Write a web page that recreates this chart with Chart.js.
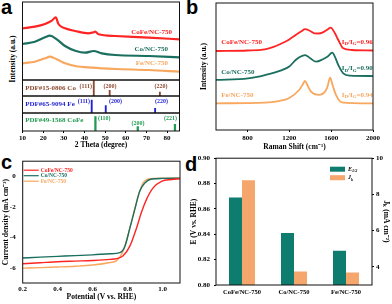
<!DOCTYPE html>
<html>
<head>
<meta charset="utf-8">
<script src="https://cdn.jsdelivr.net/npm/chart.js@4.4.0/dist/chart.umd.min.js"></script>
<style>
  body { margin: 0; background: #fff; width: 392px; height: 304px; position: relative; overflow: hidden; }
  .box { position: absolute; }
  .tag { position: absolute; font: bold 20px 'Liberation Sans', Arial, sans-serif; line-height: 20px; color: #000; }
  .vtitle { position: absolute; font: bold 7.5px 'Liberation Serif', serif; white-space: nowrap; transform: translate(-50%, -50%) rotate(-90deg); color: #000; }
</style>
</head>
<body>
<div class="tag" style="left:1px;top:-3px">a</div>
<div class="tag" style="left:186px;top:-3px">b</div>
<div class="tag" style="left:1px;top:152px">c</div>
<div class="tag" style="left:185px;top:154px">d</div>
<div class="vtitle" style="left:11.5px;top:59px">Intensity (a.u.)</div>

<div class="box" style="left:0;top:0;width:186px;height:82px"><canvas id="xrdTop"></canvas></div>
<div class="box" style="left:0;top:79px;width:186px;height:18px"><canvas id="pdfCo"></canvas></div>
<div class="box" style="left:0;top:95px;width:186px;height:19px"><canvas id="pdfFe"></canvas></div>
<div class="box" style="left:0;top:112px;width:186px;height:38px"><canvas id="pdfCoFe"></canvas></div>
<div class="box" style="left:196px;top:0;width:196px;height:152px"><canvas id="raman"></canvas></div>
<div class="box" style="left:0;top:150px;width:196px;height:154px"><canvas id="lsv"></canvas></div>
<div class="box" style="left:186px;top:150px;width:206px;height:154px"><canvas id="bars"></canvas></div>

<script>
// ---- data ----
// (a) XRD, 2 theta (deg) vs intensity (a.u.)
const xrdTicks = [10, 20, 30, 40, 50, 60, 70, 80];
const xrdCoFe = [[10, 51.5], [16, 53.3], [20.9, 56], [24.2, 59.3], [26.1, 62.7], [27.4, 56], [30.6, 51.7], [35.5, 49], [41.9, 46.7], [44, 47.5], [45.2, 48.3], [46.8, 45.7], [54.9, 44], [71.1, 42.3], [86, 40.7]];
const xrdCo = [[10, 36], [16, 38.3], [20.9, 42.7], [23.3, 44.3], [26.6, 40.7], [30.6, 34], [35.5, 29.3], [40.3, 27.3], [44.4, 29], [48.4, 26.7], [54.9, 25], [71.1, 24], [86, 22.7]];
const xrdFe = [[10, 16.7], [16, 18.3], [20.9, 21.7], [23.3, 23.3], [26.6, 20.7], [30.6, 16.7], [35.5, 14], [43.6, 12.3], [54.9, 11], [71.1, 10], [86, 8.3]];
const pdfCoPos = [44.5, 52.2, 76.5], pdfCoInt = [100, 35, 25];
const pdfFePos = [43.5, 50.3, 74.2], pdfFeInt = [76, 43, 28];
const pdfCoFePos = [45.3, 65.8, 83.8], pdfCoFeInt = [80, 24, 37];

// (b) Raman, shift (cm-1) vs intensity (a.u.)
const ramanTicks = [800, 1200, 1600, 2000];
const ramanCoFe = [[500, 62.2], [800, 62.6], [968, 63.5], [1050, 65.4], [1131, 68.3], [1200, 71.3], [1261, 74.8], [1320, 78], [1350, 79.5], [1400, 78], [1440, 76.1], [1480, 76], [1521, 76.9], [1565, 79.1], [1595, 80.6], [1635, 76.4], [1668, 70.9], [1716, 64.3], [1800, 63], [2000, 62.6]];
const ramanCo = [[500, 39.4], [806, 40.7], [968, 43.3], [1131, 47.2], [1200, 50], [1261, 55.1], [1300, 57.5], [1352, 59], [1400, 56.5], [1456, 53.8], [1521, 55.7], [1570, 58], [1610, 60.9], [1640, 57], [1668, 51.2], [1716, 44.6], [1781, 42.8], [2000, 42.5]];
const ramanFe = [[500, 21], [968, 21.5], [1100, 22.8], [1196, 25], [1294, 31.5], [1330, 36], [1350, 38.6], [1375, 35], [1408, 30.2], [1489, 27.6], [1540, 30], [1565, 34], [1590, 41.2], [1615, 35], [1646, 27.6], [1700, 21.8], [2000, 21]];
const ramanRatios = ['0.96', '0.90', '0.94'];

// (c) LSV, potential (V vs RHE) vs current density (mA cm-2)
const lsvTicksX = [0.2, 0.4, 0.6, 0.8, 1.0];
const lsvTicksY = [-6, -4, -2, 0];
const lsvCoFe = [[0.2, -5.74], [0.3, -5.67], [0.4, -5.6], [0.5, -5.56], [0.6, -5.52], [0.7, -5.45], [0.737, -5.4], [0.775, -5.21], [0.813, -4.58], [0.851, -3.4], [0.88, -2.34], [0.909, -1.49], [0.946, -0.75], [0.994, -0.32], [1.05, -0.2], [1.1, -0.15]];
const lsvCo = [[0.2, -5.36], [0.3, -5.3], [0.4, -5.25], [0.5, -5.2], [0.6, -5.15], [0.7, -5.08], [0.756, -5.0], [0.785, -4.58], [0.813, -3.4], [0.842, -2.13], [0.87, -0.96], [0.899, -0.43], [0.937, -0.17], [1.0, -0.13], [1.1, -0.11]];
const lsvFe = [[0.2, -6.02], [0.3, -5.99], [0.4, -5.95], [0.5, -5.9], [0.6, -5.82], [0.7, -5.65], [0.737, -5.53], [0.775, -4.9], [0.803, -3.83], [0.832, -2.55], [0.861, -1.28], [0.889, -0.43], [0.927, -0.15], [1.0, -0.12], [1.1, -0.11]];

// (d) half-wave potential and kinetic current
const samples = ['CoFe/NC-750', 'Co/NC-750', 'Fe/NC-750'];
const eHalf = [0.869, 0.841, 0.827];
const jKin = [8.78, 3.75, 3.69];
const eTicks = [0.80, 0.82, 0.84, 0.86, 0.88, 0.90];
const jTicks = [4, 6, 8, 10];

// ---- helpers ----
const FONT = "'Liberation Serif', 'Times New Roman', serif";
const RED = '#ff2424', TEAL = '#1a6f5f', ORANGE = '#f8a75e';
const tickFont = { family: FONT, size: 7, weight: 'bold' };
const titleFont = { family: FONT, size: 7.5, weight: 'bold' };
const noTicks = { display: false, drawTicks: false };

function fixSize(px) { return function(scale) { if (scale.isHorizontal()) scale.height = px; else scale.width = px; }; }
function useTicks(values) { return function(scale) { scale.ticks = values.map(v => ({ value: v })); }; }
function pts(arr) { return arr.map(p => ({ x: p[0], y: p[1] })); }
function lineSet(label, arr, color, width) {
    return { label: label, data: pts(arr), borderColor: color, backgroundColor: color, borderWidth: width, pointRadius: 0, cubicInterpolationMode: 'monotone', fill: false };
}

function drawRich(ctx, parts, x, y, o) {
    const size = o.size || 7;
    const fontFor = p => `${(p.italic || o.italic) ? 'italic ' : ''}bold ${p.sub ? size * 0.7 : size}px ${FONT}`;
    let w = 0;
    parts.forEach(p => { ctx.font = fontFor(p); w += ctx.measureText(p.t).width; });
    let cx = o.align === 'right' ? x - w : (o.align === 'center' ? x - w / 2 : x);
    ctx.save();
    ctx.fillStyle = o.color || '#000'; ctx.textBaseline = 'middle'; ctx.textAlign = 'left';
    parts.forEach(p => { ctx.font = fontFor(p); ctx.fillText(p.t, cx, y + (p.sub ? size * 0.3 : 0)); cx += ctx.measureText(p.t).width; });
    ctx.restore();
}

const framePlugin = {
    id: 'frame',
    afterDraw(chart) {
        const a = chart.chartArea, ctx = chart.ctx;
        ctx.save(); ctx.strokeStyle = '#111'; ctx.lineWidth = 1;
        ctx.strokeRect(a.left, a.top, a.right - a.left, a.bottom - a.top);
        ctx.restore();
    }
};
// text placed in data coordinates
function notesPlugin(items) {
    return {
        id: 'notes',
        afterDatasetsDraw(chart) {
            const sx = chart.scales.x, sy = chart.scales.y;
            items.forEach(n => drawRich(chart.ctx, n.parts || [{ t: n.text }], sx.getPixelForValue(n.x), sy.getPixelForValue(n.y), n));
        }
    };
}
// small hand-placed key inside the plot area
function keyPlugin(cfg) {
    return {
        id: 'key',
        afterDatasetsDraw(chart) {
            const ctx = chart.ctx, a = chart.chartArea;
            chart.data.datasets.forEach((ds, i) => {
                const x = a.left + cfg.x, y = a.top + cfg.y + i * cfg.dy;
                ctx.save();
                if (cfg.kind === 'line') {
                    ctx.strokeStyle = ds.borderColor; ctx.lineWidth = 1.2;
                    ctx.beginPath(); ctx.moveTo(x, y); ctx.lineTo(x + cfg.w, y); ctx.stroke();
                } else {
                    ctx.fillStyle = ds.backgroundColor; ctx.fillRect(x, y - cfg.h / 2, cfg.w, cfg.h);
                }
                ctx.restore();
                drawRich(ctx, cfg.labels[i], x + cfg.w + cfg.gap, y, { size: cfg.size, color: cfg.kind === 'line' ? ds.borderColor : '#000', italic: cfg.italic });
            });
        }
    };
}

function baseOptions(padding, scales) {
    return {
        responsive: true, maintainAspectRatio: false, animation: false,
        layout: { padding: padding },
        plugins: { legend: { display: false }, tooltip: { enabled: false } },
        scales: scales
    };
}

function xrdX(show) {
    const axis = { type: 'linear', min: 10, max: 86, offset: false, display: show };
    if (!show) return axis;
    return Object.assign(axis, {
        afterBuildTicks: useTicks(xrdTicks), afterFit: fixSize(19),
        ticks: { font: tickFont, color: '#000', padding: 1, maxRotation: 0, autoSkip: false },
        grid: { display: true, drawOnChartArea: false, drawTicks: true, tickLength: 2, color: '#000', offset: false },
        border: { display: false },
        title: { display: true, text: '2 Theta (degree)', font: titleFont, color: '#000', padding: { top: 0, bottom: 0.5 } }
    });
}

/**
 * (a) upper part: XRD patterns.
 */
function createXrdChart(canvasId) {
    const ctx = document.getElementById(canvasId);
    new Chart(ctx, {
        type: 'line',
        data: { datasets: [lineSet('CoFe/NC-750', xrdCoFe, RED, 2.2), lineSet('Co/NC-750', xrdCo, TEAL, 2.2), lineSet('Fe/NC-750', xrdFe, ORANGE, 2.2)] },
        options: baseOptions({ left: 22.5, right: 6.5, top: 2, bottom: 2 }, { x: xrdX(false), y: { display: false, min: 0, max: 78 } }),
        plugins: [framePlugin, notesPlugin([
            { text: 'CoFe/NC-750', x: 82.4, y: 48, color: RED, align: 'right' },
            { text: 'Co/NC-750', x: 80.4, y: 31, color: TEAL, align: 'right' },
            { text: 'Fe/NC-750', x: 80.4, y: 17, color: ORANGE, align: 'right' }
        ])]
    });
}

/**
 * (a) lower parts: reference sticks.
 */
function createStickChart(canvasId, pos, inten, color, thick, notes, withAxis) {
    const ctx = document.getElementById(canvasId);
    new Chart(ctx, {
        type: 'bar',
        data: { datasets: [{ data: pos.map((x, i) => ({ x: x, y: inten[i] })), backgroundColor: color, barThickness: thick }] },
        options: baseOptions({ left: 22.5, right: 6.5, top: 1, bottom: withAxis ? 0 : 1 }, { x: xrdX(withAxis), y: { display: false, min: 0, max: 100 } }),
        plugins: [framePlugin, notesPlugin(notes.map(n => Object.assign({ color: color }, n)))]
    });
}

/**
 * (b) Raman spectra.
 */
function createRamanChart(canvasId) {
    const ctx = document.getElementById(canvasId);
    const ratio = (r, y, c) => ({ parts: [{ t: 'I' }, { t: 'D', sub: true }, { t: '/I' }, { t: 'G', sub: true }, { t: '=' + r }], x: 1998, y: y, color: c, align: 'right' });
    new Chart(ctx, {
        type: 'line',
        data: { datasets: [lineSet('CoFe/NC-750', ramanCoFe, RED, 1.8), lineSet('Co/NC-750', ramanCo, TEAL, 1.8), lineSet('Fe/NC-750', ramanFe, ORANGE, 1.8)] },
        options: baseOptions({ left: 0, right: 19, top: 3, bottom: 0 }, {
            x: {
                type: 'linear', min: 500, max: 2000, afterBuildTicks: useTicks(ramanTicks), afterFit: fixSize(22),
                ticks: { font: tickFont, color: '#000', padding: 2, maxRotation: 0, callback: v => String(v) },
                grid: { drawOnChartArea: false, tickLength: 2, color: '#000' }, border: { display: false },
                title: { display: true, text: 'Raman Shift (cm\u207B\u00B9)', font: titleFont, color: '#000', padding: { top: 0, bottom: 0.5 } }
            },
            y: {
                min: 0, max: 100, afterFit: fixSize(20), ticks: { display: false },
                grid: noTicks, border: { display: false },
                title: { display: true, text: 'Intensity (a.u.)', font: titleFont, color: '#000', padding: { top: 3.8, bottom: 0 } }
            }
        }),
        plugins: [framePlugin, notesPlugin([
            { text: 'CoFe/NC-750', x: 549, y: 69.5, color: RED },
            { text: 'Co/NC-750', x: 549, y: 45.9, color: TEAL },
            { text: 'Fe/NC-750', x: 549, y: 27.6, color: ORANGE },
            ratio(ramanRatios[0], 69.5, RED), ratio(ramanRatios[1], 48.6, TEAL), ratio(ramanRatios[2], 27.6, ORANGE)
        ])]
    });
}

/**
 * (c) LSV polarisation curves.
 */
function createLsvChart(canvasId) {
    const ctx = document.getElementById(canvasId);
    new Chart(ctx, {
        type: 'line',
        data: { datasets: [lineSet('CoFe/NC-750', lsvCoFe, RED, 1.4), lineSet('Co/NC-750', lsvCo, TEAL, 1.4), lineSet('Fe/NC-750', lsvFe, ORANGE, 1.4)] },
        options: baseOptions({ left: 0, right: 16, top: 8, bottom: 0 }, {
            x: {
                type: 'linear', min: 0.2, max: 1.1, afterBuildTicks: useTicks(lsvTicksX), afterFit: fixSize(21),
                ticks: { font: tickFont, color: '#000', padding: 2, maxRotation: 0, callback: v => v.toFixed(1) },
                grid: noTicks, border: { display: false },
                title: { display: true, text: 'Potential (V vs. RHE)', font: titleFont, color: '#000', padding: { top: 0, bottom: 2.5 } }
            },
            y: {
                min: -7, max: 1, afterBuildTicks: useTicks(lsvTicksY), afterFit: fixSize(22.7),
                ticks: { font: tickFont, color: '#000', padding: 7 },
                grid: noTicks, border: { display: false },
                title: { display: true, text: 'Current density (mA cm\u207B\u00B2)', font: titleFont, color: '#000', padding: { top: 1.8, bottom: 0 } }
            }
        }),
        plugins: [framePlugin, keyPlugin({ kind: 'line', x: 1, y: 9, dy: 5.5, w: 15, gap: 2, size: 5.5, labels: samples.map(s => [{ t: s }]) })]
    });
}

/**
 * (d) E1/2 and Jk bars on two axes.
 */
function createBarChart(canvasId) {
    const ctx = document.getElementById(canvasId);
    new Chart(ctx, {
        type: 'bar',
        data: {
            labels: samples,
            datasets: [
                { label: 'E1/2', data: eHalf, yAxisID: 'y', backgroundColor: '#0f7c70', categoryPercentage: 0.5, barPercentage: 1 },
                { label: 'Jk', data: jKin, yAxisID: 'y1', backgroundColor: '#f5a66c', categoryPercentage: 0.5, barPercentage: 1 }
            ]
        },
        options: baseOptions({ left: 0, right: 0, top: 8, bottom: 0 }, {
            x: {
                afterFit: fixSize(19), ticks: { font: { family: FONT, size: 6.5, weight: 'bold' }, color: '#000', padding: 3, maxRotation: 0, autoSkip: false },
                grid: noTicks, border: { display: false }
            },
            y: {
                position: 'left', min: 0.8, max: 0.9, afterBuildTicks: useTicks(eTicks), afterFit: fixSize(30),
                ticks: { font: tickFont, color: '#000', padding: 4, callback: v => v.toFixed(2) },
                grid: { drawOnChartArea: false, tickLength: 2, color: '#000' }, border: { display: false },
                title: { display: true, text: 'E (V vs. RHE)', font: titleFont, color: '#000', padding: { top: 3.8, bottom: 0 } }
            },
            y1: {
                position: 'right', min: 3, max: 10, afterBuildTicks: useTicks(jTicks), afterFit: fixSize(20),
                ticks: { font: tickFont, color: '#000', padding: 2 },
                grid: { drawOnChartArea: false, tickLength: 2, color: '#000' }, border: { display: false },
                title: { display: true, text: 'J\u2096 (mA cm\u207B\u00B2)', font: titleFont, color: '#000', padding: { top: 1.8, bottom: 0 } }
            }
        }),
        plugins: [framePlugin, keyPlugin({ kind: 'box', x: 114, y: 11, dy: 8.5, w: 15, h: 5, gap: 3, size: 6, italic: true,
            labels: [[{ t: 'E' }, { t: '1/2', sub: true }], [{ t: 'J' }, { t: 'k', sub: true }]] })]
    });
}

createXrdChart('xrdTop');
createStickChart('pdfCo', pdfCoPos, pdfCoInt, '#8c4a2f', 1.2, [
    { text: 'PDF#15-0806 Co', x: 11.3, y: 50 },
    { text: '(111)', x: 43.6, y: 62, size: 6, align: 'right' },
    { text: '(200)', x: 52.3, y: 62, size: 6, align: 'center' },
    { text: '(220)', x: 77, y: 62, size: 6, align: 'center' }
], false);
createStickChart('pdfFe', pdfFePos, pdfFeInt, '#1f1fd6', 1.2, [
    { text: 'PDF#65-9094 Fe', x: 11.3, y: 53 },
    { text: '(111)', x: 42.7, y: 66, size: 6, align: 'right' },
    { text: '(200)', x: 51.9, y: 66, size: 6 },
    { text: '(220)', x: 74.1, y: 66, size: 6 }
], false);
createStickChart('pdfCoFe', pdfCoFePos, pdfCoFeInt, '#1f9a52', 1.6, [
    { text: 'PDF#49-1568 CoFe', x: 11.3, y: 61 },
    { text: '(110)', x: 46.5, y: 70, size: 6 },
    { text: '(200)', x: 65.9, y: 43, size: 6, align: 'center' },
    { text: '(221)', x: 84.8, y: 70, size: 6, align: 'right' }
], true);
createRamanChart('raman');
createLsvChart('lsv');
createBarChart('bars');
</script>
</body>
</html>
